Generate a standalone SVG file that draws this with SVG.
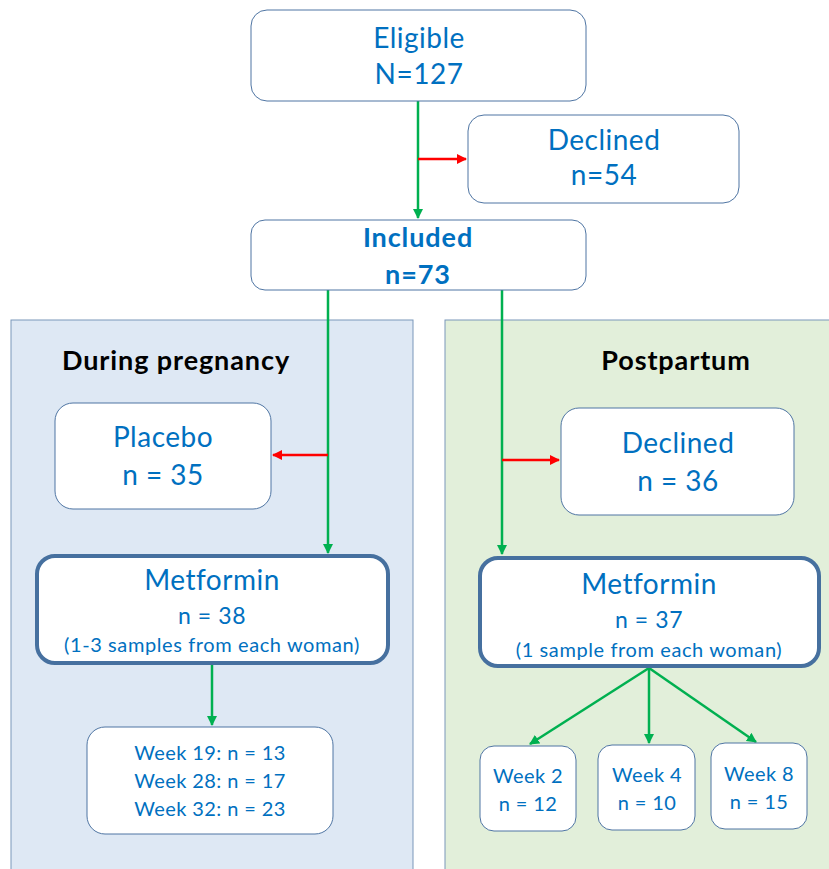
<svg xmlns="http://www.w3.org/2000/svg" width="829" height="869" viewBox="0 0 829 869">
<style>
.box{fill:#fff;stroke:#4f75a3;stroke-width:1}
.thick{fill:#fff;stroke:#46709f;stroke-width:4}
.t{font-family:Lato,"Open Sans",sans-serif;fill:#0070c0;text-anchor:middle}
.big{font-size:28px;letter-spacing:0.5px}
.mid{font-size:23px;letter-spacing:0.6px}
.sm{font-size:20px;letter-spacing:0.6px}
.wk{font-size:20px;letter-spacing:0.4px}
.h{font-family:Lato,"Open Sans",sans-serif;fill:#000;font-weight:bold;text-anchor:middle;font-size:27px;letter-spacing:0.9px}
.g{stroke:#00b050;stroke-width:2.5;fill:none}
.r{stroke:#ff0000;stroke-width:2.5;fill:none}
</style>
<defs>
<marker id="ag" viewBox="0 0 10 10" refX="9" refY="5" markerWidth="4" markerHeight="4" orient="auto" markerUnits="strokeWidth"><path d="M0,0L10,5L0,10z" fill="#00b050"/></marker>
<marker id="ar" viewBox="0 0 10 10" refX="9" refY="5" markerWidth="4" markerHeight="4" orient="auto" markerUnits="strokeWidth"><path d="M0,0L10,5L0,10z" fill="#ff0000"/></marker>
</defs>
<rect width="829" height="869" fill="#fff"/>
<g id="panel-pregnancy">
<rect x="11" y="320" width="402" height="560" fill="#dee8f4" stroke="#7a97ba" stroke-width="1"/>
<text class="h" x="176" y="370">During pregnancy</text>
</g>
<g id="panel-postpartum">
<rect x="445" y="320" width="400" height="560" fill="#e2efda" stroke="#7a97ba" stroke-width="1"/>
<text class="h" x="676" y="370">Postpartum</text>
</g>
<g id="connectors">
<path class="g" d="M418,101V218" marker-end="url(#ag)"/>
<path class="r" d="M418,159H466" marker-end="url(#ar)"/>
<path class="g" d="M328,290V553" marker-end="url(#ag)"/>
<path class="r" d="M328,455H273" marker-end="url(#ar)"/>
<path class="g" d="M502,290V554" marker-end="url(#ag)"/>
<path class="r" d="M502,460H559" marker-end="url(#ar)"/>
<path class="g" d="M212,665V725" marker-end="url(#ag)"/>
<path class="g" d="M649,668L530,744" marker-end="url(#ag)"/>
<path class="g" d="M649,668V743" marker-end="url(#ag)"/>
<path class="g" d="M649,668L756,742" marker-end="url(#ag)"/>
</g>
<g id="eligible">
<rect class="box" x="251" y="10" width="335" height="91" rx="16"/>
<text class="t big" x="419" y="48">Eligible</text>
<text class="t big" x="419" y="84">N=127</text>
</g>
<g id="declined1">
<rect class="box" x="468" y="115" width="271" height="88" rx="16"/>
<text class="t big" x="604" y="150">Declined</text>
<text class="t big" x="604" y="185">n=54</text>
</g>
<g id="included">
<rect class="box" x="251" y="220" width="335" height="70" rx="14"/>
<text class="t" x="418" y="247" font-size="27" font-weight="bold" letter-spacing="0.9">Included</text>
<text class="t" x="418" y="284" font-size="27" font-weight="bold" letter-spacing="0.9">n=73</text>
</g>
<g id="placebo">
<rect class="box" x="55" y="403" width="216" height="106" rx="18"/>
<text class="t big" x="163" y="447">Placebo</text>
<text class="t big" x="163" y="485">n = 35</text>
</g>
<g id="metformin-preg">
<rect class="thick" x="37" y="556" width="351" height="107" rx="18"/>
<text class="t big" x="212" y="590" letter-spacing="0.8">Metformin</text>
<text class="t mid" x="212" y="624">n = 38</text>
<text class="t sm" x="212" y="652">(1-3 samples from each woman)</text>
</g>
<g id="weeks-preg">
<rect class="box" x="87" y="727" width="246" height="107" rx="18"/>
<text class="t wk" x="210" y="760">Week 19: n = 13</text>
<text class="t wk" x="210" y="788">Week 28: n = 17</text>
<text class="t wk" x="210" y="816">Week 32: n = 23</text>
</g>
<g id="declined2">
<rect class="box" x="561" y="408" width="233" height="107" rx="18"/>
<text class="t big" x="678" y="453">Declined</text>
<text class="t big" x="678" y="491">n = 36</text>
</g>
<g id="metformin-post">
<rect class="thick" x="480" y="558" width="339" height="108" rx="18"/>
<text class="t big" x="649" y="594" letter-spacing="0.8">Metformin</text>
<text class="t mid" x="649" y="628">n = 37</text>
<text class="t sm" x="649" y="657">(1 sample from each woman)</text>
</g>
<g id="week2">
<rect class="box" x="480" y="746" width="96" height="85" rx="14"/>
<text class="t wk" x="528" y="783">Week 2</text>
<text class="t wk" x="528" y="811">n = 12</text>
</g>
<g id="week4">
<rect class="box" x="598" y="745" width="97" height="85" rx="14"/>
<text class="t wk" x="647" y="782">Week 4</text>
<text class="t wk" x="647" y="810">n = 10</text>
</g>
<g id="week8">
<rect class="box" x="711" y="743" width="96" height="86" rx="14"/>
<text class="t wk" x="759" y="781">Week 8</text>
<text class="t wk" x="759" y="809">n = 15</text>
</g>
</svg>
